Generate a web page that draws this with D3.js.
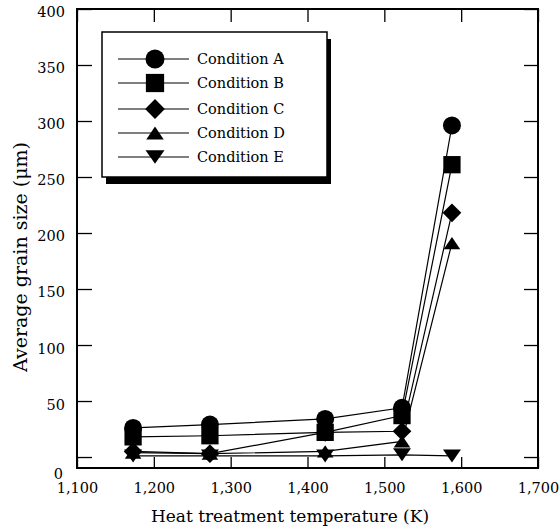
<!DOCTYPE html>
<html><head><meta charset="utf-8">
<script src="https://cdn.jsdelivr.net/npm/d3@7"></script>
<style>body{margin:0;background:#fff}svg{display:block}</style>
</head><body><svg id="c" width="560" height="530"></svg>
<script>
// ---- data ----
const temperatures = [1173, 1273, 1423, 1523, 1588];
const conditionA = [26, 29, 34, 44, 296];
const conditionB = [18, 19, 22, 37, 261];
const conditionC = [5, 3, 22, 23, 218];
const conditionD = [4, 3, 5, 14, 191];
const conditionE = [1, 1, 1, 2, 1];
const seriesNames = ["Condition A", "Condition B", "Condition C", "Condition D", "Condition E"];
const markerShapes = ["circle", "square", "diamond", "triangleUp", "triangleDown"];
const xTicks = [1100, 1200, 1300, 1400, 1500, 1600, 1700];
const yTicks = [0, 50, 100, 150, 200, 250, 300, 350, 400];
const xTitle = "Heat treatment temperature (K)";
const yTitle = "Average grain size (\u03bcm)";

const seriesValues = [conditionA, conditionB, conditionC, conditionD, conditionE];
const series = seriesNames.map((n, i) => ({
  name: n, shape: markerShapes[i],
  points: temperatures.map((t, j) => ({ t, v: seriesValues[i][j] }))
}));

const svg = d3.select("#c");
const FONT = "'DejaVu Serif', 'Liberation Serif', serif";
const L = 77, R = 538, T = 9, B = 468;
const x = d3.scaleLinear().domain([1100, 1700]).range([L, R]);
const y = d3.scaleLinear().domain([-9.8, 400]).range([B, T]);

function markerPath(shape, s) {
  const p = d3.path();
  if (shape === "circle") { p.arc(0, 0, s * 0.5, 0, 2 * Math.PI); }
  else if (shape === "square") { const h = s * 0.48; p.rect(-h, -h, 2 * h, 2 * h); }
  else if (shape === "diamond") { const h = s * 0.52; p.moveTo(0, -h); p.lineTo(h, 0); p.lineTo(0, h); p.lineTo(-h, 0); p.closePath(); }
  else if (shape === "triangleUp") { const w = s * 0.46, h = s * 0.34; p.moveTo(0, -h); p.lineTo(w, h); p.lineTo(-w, h); p.closePath(); }
  else { const w = s * 0.5, h = s * 0.36; p.moveTo(-w, -h); p.lineTo(w, -h); p.lineTo(0, h); p.closePath(); }
  return p.toString();
}

// axes
const g = svg.append("g");
const fmt = d3.format(",");
const xb = g.append("g").attr("transform", `translate(0,${B})`)
  .call(d3.axisBottom(x).tickValues(xTicks).tickSize(-11).tickPadding(15).tickFormat(fmt));
const xt = g.append("g").attr("transform", `translate(0,${T})`)
  .call(d3.axisTop(x).tickValues(xTicks).tickSize(-13).tickFormat(""));
const yl = g.append("g").attr("transform", `translate(${L},0)`)
  .call(d3.axisLeft(y).tickValues(yTicks).tickSize(-15).tickPadding(12));
const yr = g.append("g").attr("transform", `translate(${R},0)`)
  .call(d3.axisRight(y).tickValues(yTicks).tickSize(-14).tickFormat(""));
[xb, xt, yl, yr].forEach(a => {
  a.select(".domain").remove();
  a.selectAll(".tick line").attr("stroke", "#000").attr("stroke-width", 1.3);
  a.selectAll("text").attr("font-family", FONT).attr("font-size", 14.5).attr("fill", "#000");
});
yl.selectAll(".tick text").attr("dy", "0.55em");
yl.selectAll(".tick").filter(d => d === 0).select("text").attr("dy", "1.45em").attr("x", -14);

// frame
g.append("rect").attr("x", L).attr("y", T).attr("width", R - L).attr("height", B - T)
  .attr("fill", "none").attr("stroke", "#000").attr("stroke-width", 2);

// titles
svg.append("text").attr("x", 290).attr("y", 522).attr("text-anchor", "middle")
  .attr("font-family", FONT).attr("font-size", 17).text(xTitle);
svg.append("text").attr("transform", "translate(27,257) rotate(-90)").attr("text-anchor", "middle")
  .attr("font-family", FONT).attr("font-size", 19).text(yTitle);

// lines
const line = d3.line().x(d => x(d.t)).y(d => y(d.v));
svg.append("g").selectAll("path").data(series).join("path")
  .attr("d", d => line(d.points)).attr("fill", "none").attr("stroke", "#000").attr("stroke-width", 1.2);

// markers
const mg = svg.append("g");
series.forEach(s => {
  mg.selectAll(null).data(s.points).join("path")
    .attr("transform", d => `translate(${x(d.t)},${y(d.v)})`)
    .attr("d", markerPath(s.shape, 18)).attr("fill", "#000");
});

// legend
const lg = svg.append("g");
const lx = 102, ly = 32, lw = 225, lh = 145;
lg.append("rect").attr("x", lx + 4).attr("y", ly + 7).attr("width", lw).attr("height", lh).attr("fill", "#000");
lg.append("rect").attr("x", lx).attr("y", ly).attr("width", lw).attr("height", lh)
  .attr("fill", "#fff").attr("stroke", "#000").attr("stroke-width", 1.5);
const rowY = [59, 83, 109, 133, 157];
series.forEach((s, i) => {
  const r = lg.append("g").attr("transform", `translate(0,${rowY[i]})`);
  r.append("line").attr("x1", 118).attr("x2", 189).attr("y1", 0).attr("y2", 0)
    .attr("stroke", "#000").attr("stroke-width", 1.2);
  r.append("path").attr("transform", "translate(155,0)").attr("d", markerPath(s.shape, 19)).attr("fill", "#000");
  r.append("text").attr("x", 197).attr("y", 0).attr("dy", "0.35em")
    .attr("font-family", FONT).attr("font-size", 14.5).text(s.name);
});
</script>
</body></html>
